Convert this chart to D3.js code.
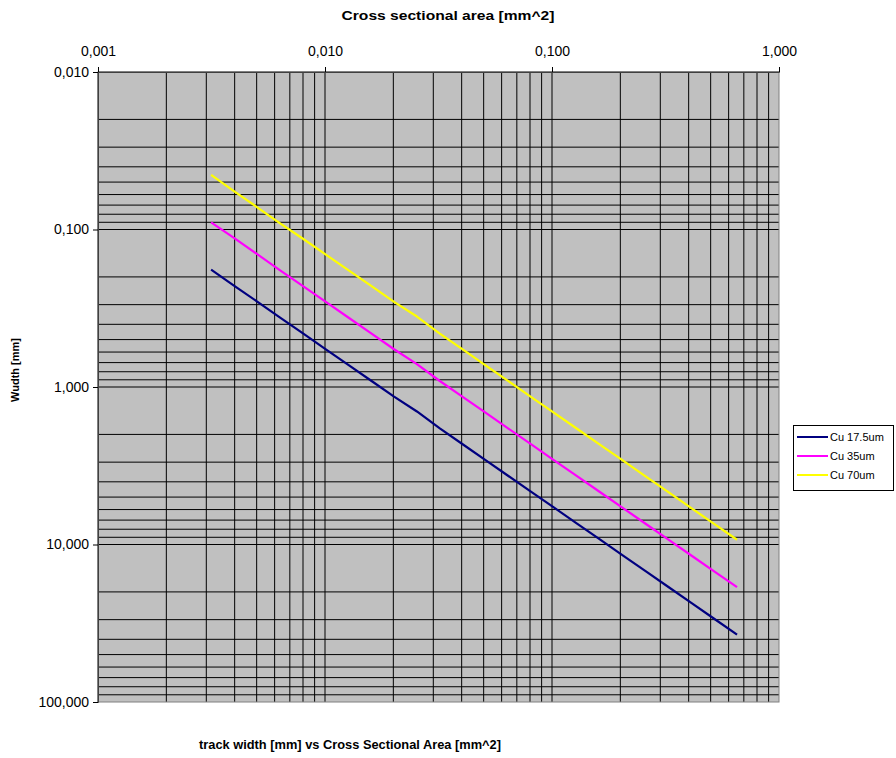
<!DOCTYPE html>
<html>
<head>
<meta charset="utf-8">
<script src="https://cdn.jsdelivr.net/npm/d3@7"></script>
<style>
  body { margin: 0; background: #fff; }
  svg { display: block; font-family: Arial, "Liberation Sans", sans-serif; }
</style>
</head>
<body>
<svg id="chart" width="896" height="758"></svg>
<script>
// Copper cross-sectional area (mm^2) of each sample point
const areas = [0.00315, 0.00397, 0.00501, 0.00632, 0.00797, 0.01005, 0.01267, 0.01598,
  0.02015, 0.02541, 0.03205, 0.04041, 0.05096, 0.06426, 0.08104, 0.1022, 0.1289,
  0.1625, 0.2049, 0.2584, 0.3258, 0.4109, 0.5181, 0.6533];

// Track width (mm) for each copper thickness
const cu175 = [0.180, 0.227, 0.286, 0.361, 0.455, 0.574, 0.724, 0.913, 1.151, 1.43,
  1.831, 2.309, 2.912, 3.672, 4.631, 5.840, 7.366, 9.286, 11.71, 14.77, 18.62,
  23.48, 29.61, 37.33];
const cu35 = [0.090, 0.113, 0.143, 0.181, 0.228, 0.287, 0.362, 0.456, 0.576, 0.715,
  0.916, 1.155, 1.456, 1.836, 2.315, 2.920, 3.683, 4.643, 5.855, 7.383, 9.309,
  11.74, 14.80, 18.67];
const cu70 = [0.045, 0.057, 0.072, 0.091, 0.114, 0.144, 0.181, 0.228, 0.288, 0.357,
  0.458, 0.577, 0.728, 0.918, 1.158, 1.460, 1.841, 2.322, 2.927, 3.692, 4.654,
  5.870, 7.401, 9.333];

const seriesNames = ["Cu 17.5um", "Cu 35um", "Cu 70um"];
const seriesColors = ["#000080", "#FF00FF", "#FFFF00"];

const xTicks = [0.001, 0.01, 0.1, 1];
const yTicks = [0.01, 0.1, 1, 10, 100];

const series = [cu175, cu35, cu70].map((vals, i) => ({
  name: seriesNames[i],
  color: seriesColors[i],
  points: areas.map((a, j) => [a, vals[j]])
}));

const svg = d3.select("#chart");
const plot = { left: 98, right: 779, top: 72, bottom: 702 };

const x = d3.scaleLog().domain([0.001, 1]).range([plot.left, plot.right]);
const y = d3.scaleLog().domain([0.01, 100]).range([plot.top, plot.bottom]);

const fmt = v => d3.format(".3f")(v).replace(".", ",");

// Plot background
svg.append("rect")
  .attr("x", plot.left).attr("y", plot.top)
  .attr("width", plot.right - plot.left).attr("height", plot.bottom - plot.top)
  .attr("fill", "#C0C0C0");

// Logarithmic grid: every 1..9 step inside each decade
function decadeSteps(lo, hi) {
  const out = [];
  for (let e = Math.round(Math.log10(lo)); e < Math.round(Math.log10(hi)); e++) {
    for (let m = 1; m <= 9; m++) out.push(m * Math.pow(10, e));
  }
  return out;
}
const xGrid = decadeSteps(0.001, 1);
const yGrid = decadeSteps(0.01, 100);

const grid = svg.append("g").attr("stroke", "#000").attr("stroke-width", 1);
grid.selectAll("line.vx").data(xGrid).join("line")
  .attr("class", "vx")
  .attr("x1", d => x(d)).attr("x2", d => x(d))
  .attr("y1", plot.top).attr("y2", plot.bottom);
grid.selectAll("line.hy").data(yGrid).join("line")
  .attr("class", "hy")
  .attr("x1", plot.left).attr("x2", plot.right)
  .attr("y1", d => y(d)).attr("y2", d => y(d));

// Plot border
svg.append("rect")
  .attr("x", plot.left).attr("y", plot.top)
  .attr("width", plot.right - plot.left).attr("height", plot.bottom - plot.top)
  .attr("fill", "none").attr("stroke", "#808080").attr("stroke-width", 1);

// Axes
const xAxis = svg.append("g")
  .attr("transform", `translate(0,${plot.top})`)
  .call(d3.axisTop(x).tickValues(xTicks).tickFormat(fmt).tickSize(5).tickPadding(11));
const yAxis = svg.append("g")
  .attr("transform", `translate(${plot.left},0)`)
  .call(d3.axisLeft(y).tickValues(yTicks).tickFormat(fmt).tickSize(5).tickPadding(4));
[xAxis, yAxis].forEach(a => {
  a.select(".domain").attr("stroke", "#404040");
  a.selectAll(".tick line").attr("stroke", "#000");
  a.selectAll(".tick text").attr("fill", "#000")
    .style("font-family", "Arial, 'Liberation Sans', sans-serif")
    .style("font-size", "14px");
});

// Series lines
const line = d3.line().x(d => x(d[0])).y(d => y(d[1]));
svg.append("g").selectAll("path").data(series).join("path")
  .attr("d", d => line(d.points))
  .attr("fill", "none")
  .attr("stroke", d => d.color)
  .attr("stroke-width", 2.2)
  .attr("stroke-linejoin", "round");

// Titles
svg.append("text")
  .attr("x", 448).attr("y", 20)
  .attr("text-anchor", "middle")
  .attr("font-weight", "bold").attr("font-size", 12)
  .attr("textLength", 213).attr("lengthAdjust", "spacingAndGlyphs")
  .text("Cross sectional area [mm^2]");

svg.append("text")
  .attr("transform", "translate(19,370) rotate(-90)")
  .attr("text-anchor", "middle")
  .attr("font-weight", "bold").attr("font-size", 11)
  .text("Wudth [mm]");

svg.append("text")
  .attr("x", 350).attr("y", 749)
  .attr("text-anchor", "middle")
  .attr("font-weight", "bold").attr("font-size", 13)
  .attr("textLength", 302).attr("lengthAdjust", "spacingAndGlyphs")
  .text("track width [mm] vs Cross Sectional Area [mm^2]");

// Legend
const legend = svg.append("g").attr("transform", "translate(793,425)");
legend.append("rect")
  .attr("x", 0.5).attr("y", 0.5).attr("width", 100).attr("height", 65)
  .attr("fill", "#fff").attr("stroke", "#000").attr("stroke-width", 1);
const items = legend.selectAll("g.item").data(series).join("g")
  .attr("class", "item")
  .attr("transform", (d, i) => `translate(0,${12 + i * 19})`);
items.append("line")
  .attr("x1", 4).attr("x2", 35).attr("y1", 0).attr("y2", 0)
  .attr("stroke", d => d.color).attr("stroke-width", 2);
items.append("text")
  .attr("x", 37).attr("y", 4)
  .attr("font-size", 11)
  .text(d => d.name);
</script>
</body>
</html>
